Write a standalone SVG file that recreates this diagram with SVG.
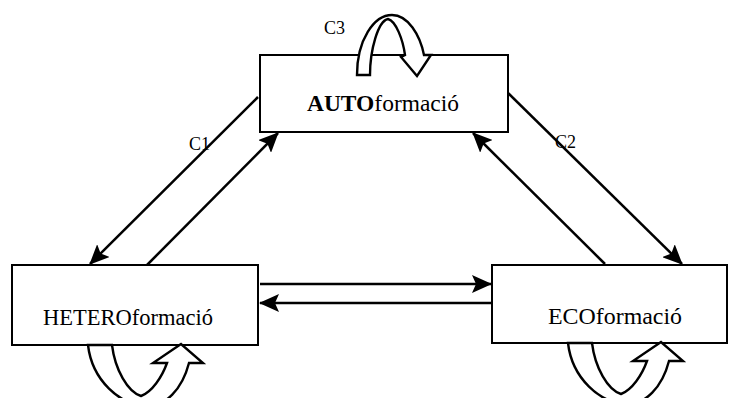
<svg xmlns="http://www.w3.org/2000/svg" width="729" height="398" viewBox="0 0 729 398">
<defs>
<style>
.box{fill:#fff;stroke:#000;stroke-width:2}
.lbl{font-family:"Liberation Serif","Times New Roman",serif;font-size:23px;fill:#000}
.c{font-family:"Liberation Serif","Times New Roman",serif;font-size:18px;fill:#000}
.ln{stroke:#000;stroke-width:2.5;fill:none}
.loop{fill:#fff;stroke:#000;stroke-width:2.4;stroke-linejoin:miter}
</style>
<marker id="ah" viewBox="0 0 20 18" refX="19" refY="9" markerWidth="20" markerHeight="18" markerUnits="userSpaceOnUse" orient="auto">
<path d="M0,0 L20,9 L0,18 L4,9 Z" fill="#000"/>
</marker>
</defs>
<rect width="729" height="398" fill="#fff"/>
<g id="connectors">
<line class="ln" x1="258" y1="97" x2="90" y2="264" marker-end="url(#ah)"/>
<line class="ln" x1="147" y1="265" x2="278" y2="133" marker-end="url(#ah)"/>
<line class="ln" x1="508" y1="93" x2="682" y2="264" marker-end="url(#ah)"/>
<line class="ln" x1="605" y1="264" x2="473" y2="133" marker-end="url(#ah)"/>
<line class="ln" x1="260" y1="284" x2="491" y2="284" marker-end="url(#ah)"/>
<line class="ln" x1="491" y1="303" x2="260" y2="303" marker-end="url(#ah)"/>
<text class="c" x="189" y="150">C1</text>
<text class="c" x="555" y="148">C2</text>
<text class="c" x="324" y="34">C3</text>
</g>
<g id="auto">
<rect class="box" x="260" y="55" width="248" height="77"/>
<text class="lbl" x="307" y="111" textLength="152" lengthAdjust="spacingAndGlyphs"><tspan font-weight="bold">AUTO</tspan>formació</text>
<path class="loop" d="M357,75 L370,75 C370,50 378,21 388,19 C396,21 403,40 405,55 L401,57 L417,76 L431,55 L424,55 C420,35 408,15 392,15 C374,15 357,40 357,75 Z"/>
</g>
<g id="hetero">
<rect class="box" x="12" y="265" width="246" height="80"/>
<text class="lbl" x="43" y="325" textLength="170" lengthAdjust="spacingAndGlyphs">HETEROformació</text>
<path class="loop" d="M88,345 L112,345 C115,370 128,392 141,396 C152,392 162,377 167,363 L153,363 L181,344 L203,363 L189,363 C182,390 165,406 148,406 C120,406 92,380 88,345 Z"/>
</g>
<g id="eco">
<rect class="box" x="492" y="265" width="235" height="78"/>
<text class="lbl" x="548" y="324" textLength="134" lengthAdjust="spacingAndGlyphs">ECOformació</text>
<path class="loop" transform="translate(480,-2)" d="M88,345 L112,345 C115,370 128,392 141,396 C152,392 162,377 167,363 L153,363 L181,344 L203,363 L189,363 C182,390 165,406 148,406 C120,406 92,380 88,345 Z"/>
</g>
</svg>
